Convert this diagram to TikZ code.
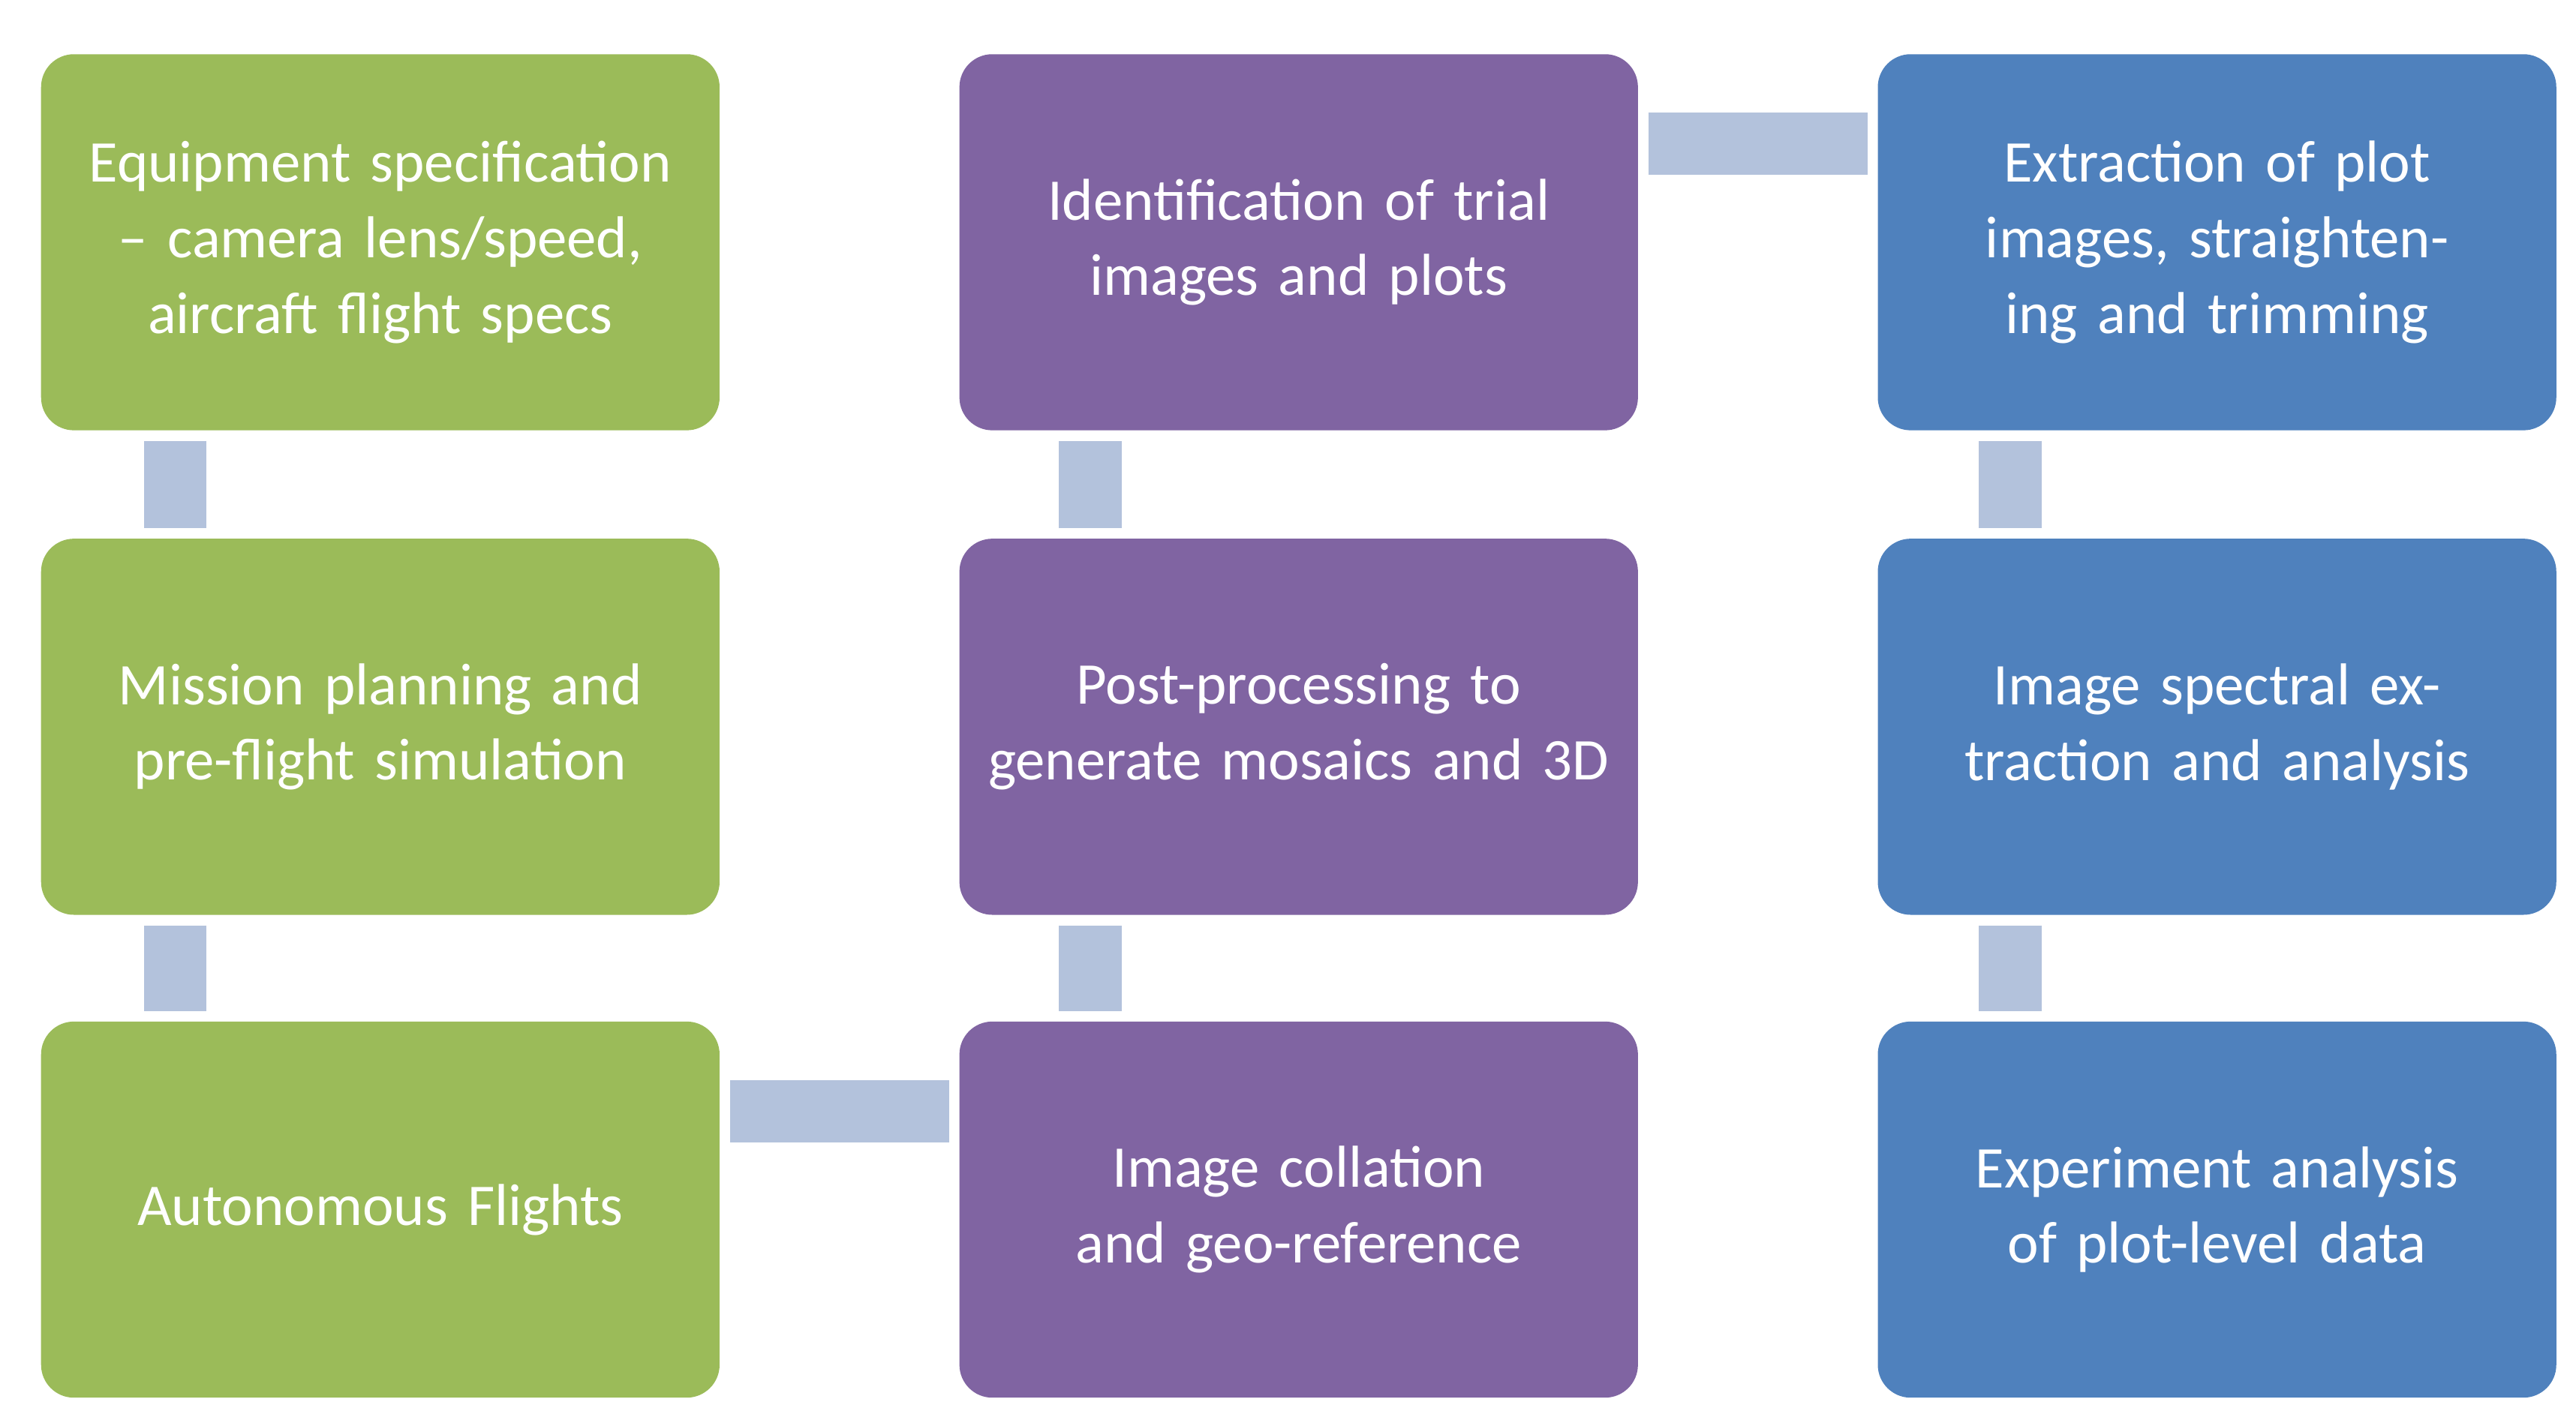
\documentclass[tikz,border=0pt]{standalone}
\usepackage{fontspec}
\setmainfont{Carlito}
\definecolor{stepgreen}{HTML}{9BBB59}
\definecolor{steppurple}{HTML}{8064A2}
\definecolor{stepblue}{HTML}{4F81BD}
\definecolor{barcol}{HTML}{B3C2DC}
\begin{document}
\begin{tikzpicture}[x=0.5pt,y=-0.5pt,
    stage/.style={shape=rectangle,rounded corners=10pt,minimum width=206.5pt,minimum height=114.5pt,
        text width=190pt,align=center,text=white,font=\fontsize{18}{23}\selectfont},
    bar/.style={draw=barcol,line width=19pt,shorten <=3pt,shorten >=3pt}]
        \useasboundingbox (0,0) rectangle (1568,868);
        \node[stage,fill=stepgreen]  (E) at (231.5,147.5) {Equipment specification -- camera lens/speed, aircraft flight specs};
        \node[stage,fill=stepgreen]  (M) at (231.5,442.5) {Mission planning and pre-flight simulation};
        \node[stage,fill=stepgreen]  (A) at (231.5,736.5) {Autonomous Flights};
        \node[stage,fill=steppurple] (C) at (790.5,736.5) {Image collation and geo-reference};
        \node[stage,fill=steppurple] (P) at (790.5,442.5) {Post-processing to generate mosaics and 3D};
        \node[stage,fill=steppurple] (I) at (790.5,147.5) {Identification of trial images and plots};
        \node[stage,fill=stepblue]   (X) at (1349.5,147.5) {Extraction of plot images, straightening and trimming};
        \node[stage,fill=stepblue]   (S) at (1349.5,442.5) {Image spectral extraction and analysis};
        \node[stage,fill=stepblue]   (D) at (1349.5,736.5) {Experiment analysis of plot-level data};

        \path[bar] ([xshift=41pt]E.south west) -- ([xshift=41pt]M.north west);
        \path[bar] ([xshift=41pt]M.south west) -- ([xshift=41pt]A.north west);
        \path[bar] ([yshift=-27.5pt]A.north east) -- ([yshift=-27.5pt]C.north west);
        \path[bar] ([xshift=40pt]C.north west) -- ([xshift=40pt]P.south west);
        \path[bar] ([xshift=40pt]P.north west) -- ([xshift=40pt]I.south west);
        \path[bar] ([yshift=-27.5pt]I.north east) -- ([yshift=-27.5pt]X.north west);
        \path[bar] ([xshift=40.5pt]X.south west) -- ([xshift=40.5pt]S.north west);
        \path[bar] ([xshift=40.5pt]S.south west) -- ([xshift=40.5pt]D.north west);
    \end{tikzpicture}
\end{document}
